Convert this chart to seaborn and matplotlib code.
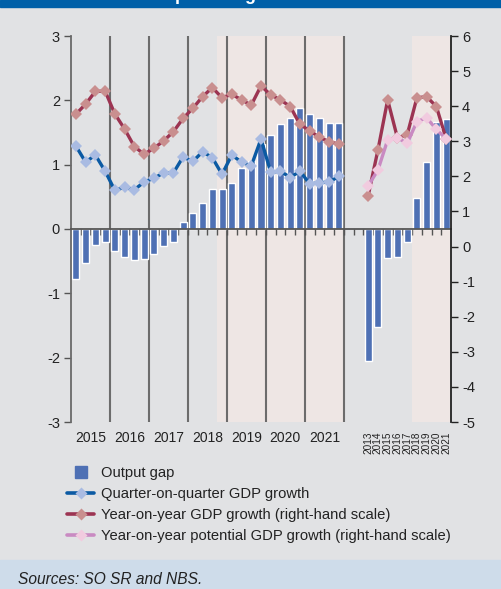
import matplotlib
matplotlib.use("Agg")
import matplotlib.pyplot as plt
from matplotlib.lines import Line2D
from matplotlib.patches import Rectangle
import matplotlib.transforms as mtransforms
import pandas as pd
import seaborn as sns

# ---- data -------------------------------------------------------------
quarter_years = ["2015", "2016", "2017", "2018", "2019", "2020", "2021"]
quarters = [f"{y}Q{q}" for y in quarter_years for q in range(1, 5)]
annual_years = ["2013", "2014", "2015", "2016", "2017", "2018", "2019", "2020", "2021"]

# output gap (left scale), quarterly 2015Q1-2021Q4
gap_q = [-0.77, -0.53, -0.25, -0.20,
         -0.34, -0.43, -0.48, -0.46,
         -0.39, -0.27, -0.20, 0.11,
         0.25, 0.40, 0.62, 0.62,
         0.71, 0.95, 1.06, 1.32,
         1.46, 1.63, 1.72, 1.88,
         1.78, 1.72, 1.64, 1.64]
# quarter-on-quarter GDP growth (left scale)
qoq_q = [1.29, 1.04, 1.15, 0.90,
         0.60, 0.65, 0.61, 0.73,
         0.79, 0.87, 0.87, 1.12,
         1.05, 1.20, 1.11, 0.85,
         1.15, 1.04, 0.98, 1.40,
         0.88, 0.90, 0.80, 0.90,
         0.70, 0.72, 0.73, 0.82]
# year-on-year GDP growth (right scale), quarterly
yoy_q = [3.77, 4.06, 4.42, 4.43,
         3.78, 3.35, 2.85, 2.63,
         2.80, 3.01, 3.27, 3.65,
         3.94, 4.27, 4.53, 4.24,
         4.34, 4.18, 4.03, 4.58,
         4.32, 4.18, 3.99, 3.48,
         3.30, 3.11, 2.99, 2.92]

# annual figures 2013-2021
gap_a = [-2.05, -1.53, -0.45, -0.43, -0.20, 0.48, 1.04, 1.66, 1.71]
yoy_a = [1.45, 2.75, 4.18, 3.10, 3.18, 4.24, 4.27, 3.99, 3.07]
pot_a = [1.73, 2.18, 3.04, 3.10, 2.94, 3.56, 3.67, 3.34, 3.07]

labels = ["Output gap",
          "Quarter-on-quarter GDP growth",
          "Year-on-year GDP growth (right-hand scale)",
          "Year-on-year potential GDP growth (right-hand scale)"]

# ---- styling ------------------------------------------------------------
BG = "#E1E2E4"
SHADE = "#EEE6E4"
BAR = "#4E70B4"
BLUE_LINE, BLUE_MARK = "#0B5AA3", "#A9BBE2"
RED_LINE, RED_MARK = "#9C3452", "#C98F8F"
PINK_LINE, PINK_MARK = "#C98AC2", "#F1CBDF"
TXT = "#222222"

sns.set_style("ticks")
plt.rcParams["font.family"] = ["Liberation Sans", "DejaVu Sans"]
plt.rcParams["axes.unicode_minus"] = False

# category slots: quarters, two empty slots, then the annual years
order = quarters + ["gap1", "gap2"] + annual_years
slot = {p: i for i, p in enumerate(order)}

fig = plt.figure(figsize=(5.02, 5.89), dpi=100, facecolor=BG)
ax = fig.add_axes([71 / 502, 1 - 422 / 589, 380 / 502, 386 / 589])
ax.set_facecolor(BG)

# shaded periods
ax.axvspan(slot["2018Q4"] - 0.5, slot["2021Q4"] + 0.5, color=SHADE, lw=0, zorder=0)
ax.axvspan(slot["2018"] - 0.5, slot["2021"] + 0.5, color=SHADE, lw=0, zorder=0)

# year separators in the quarterly panel
for y in quarter_years:
    ax.axvline(slot[f"{y}Q4"] + 0.5, color="#6C6C6C", lw=1.5, zorder=0.5)

bars = pd.DataFrame({"period": quarters + annual_years, "gap": gap_q + gap_a})
sns.barplot(data=bars, x="period", y="gap", order=order, color=BAR,
            saturation=1, width=0.72, errorbar=None, ax=ax, zorder=1)

line_kw = dict(lw=2.4, marker="D", markersize=6.1, markeredgewidth=0,
               markeredgecolor="none", legend=False, solid_capstyle="round")
sns.lineplot(x=[slot[p] for p in quarters], y=qoq_q, ax=ax, color=BLUE_LINE,
             markerfacecolor=BLUE_MARK, zorder=3, **line_kw)

ax2 = ax.twinx()
sns.lineplot(x=[slot[p] for p in quarters], y=yoy_q, ax=ax2, color=RED_LINE,
             markerfacecolor=RED_MARK, zorder=3, **line_kw)
sns.lineplot(x=[slot[p] for p in annual_years], y=yoy_a, ax=ax2, color=RED_LINE,
             markerfacecolor=RED_MARK, zorder=3, **line_kw)
sns.lineplot(x=[slot[p] for p in annual_years], y=pot_a, ax=ax2, color=PINK_LINE,
             markerfacecolor=PINK_MARK, zorder=4, **line_kw)

# axes, scales and ticks
ax.set_xlim(-0.5, len(order) - 0.5)
ax.set_ylim(-3, 3)
ax.set_yticks(range(-3, 4))
ax2.set_ylim(-5, 6)
ax2.set_yticks(range(-5, 7))
ax.set_xlabel("")
ax.set_ylabel("")
ax2.set_xlabel("")
ax2.set_ylabel("")

ax.spines["top"].set_visible(False)
ax.spines["right"].set_visible(False)
ax.spines["left"].set_color("#6A6A6A")
ax.spines["left"].set_linewidth(1.3)
ax.spines["bottom"].set_position(("data", 0))
ax.spines["bottom"].set_color("#555555")
ax.spines["bottom"].set_linewidth(1.3)
ax.set_xticks([i - 0.5 for i in range(1, len(order))])
ax.set_xticklabels([])
ax.tick_params(axis="x", direction="out", length=4, width=1, color="#555555")
ax.tick_params(axis="y", direction="out", length=5, width=1, color="#555555",
               labelsize=10.5, labelcolor=TXT, pad=3)

for s in ("top", "left", "bottom"):
    ax2.spines[s].set_visible(False)
ax2.spines["right"].set_color("#222222")
ax2.spines["right"].set_linewidth(1.3)
ax2.tick_params(axis="y", direction="out", length=5, width=1, color="#222222",
                labelsize=10.5, labelcolor=TXT, pad=3)

# period labels under the plot
below = mtransforms.blended_transform_factory(ax.transData, ax.transAxes)
for y in quarter_years:
    ax.text(slot[f"{y}Q2"] + 0.5, 0, y, transform=mtransforms.offset_copy(
        below, fig=fig, y=-11.5, units="points"), ha="center", va="center",
        fontsize=10, color=TXT)
for y in annual_years:
    ax.text(slot[y], 0, y, transform=mtransforms.offset_copy(
        below, fig=fig, y=-7, units="points"), ha="center", va="top",
        rotation=90, fontsize=7.2, color=TXT)

# legend
handles = [
    Line2D([], [], ls="none", marker="s", markersize=8, color=BAR),
    Line2D([], [], color=BLUE_LINE, lw=2.6, marker="D", markersize=6.5,
           mfc=BLUE_MARK, mec="none", solid_capstyle="round"),
    Line2D([], [], color=RED_LINE, lw=2.6, marker="D", markersize=6.5,
           mfc=RED_MARK, mec="none", solid_capstyle="round"),
    Line2D([], [], color=PINK_LINE, lw=2.6, marker="D", markersize=6.5,
           mfc=PINK_MARK, mec="none", solid_capstyle="round"),
]
fig.legend(handles, labels, loc="upper left",
           bbox_to_anchor=(60 / 502, 1 - 459 / 589), frameon=False,
           fontsize=10.6, handlelength=1.8, handletextpad=0.5,
           labelspacing=0.47, borderpad=0, labelcolor=TXT,
           markerscale=1.0)

# header band with title
fig.patches.append(Rectangle((0, 1 - 7 / 589), 1, 7 / 589,
                             transform=fig.transFigure, color="#0060A8", zorder=0))
fig.text(72 / 502, 1.0, "Chart 3  Output and growth", color="white",
         fontsize=13, fontweight="bold", ha="left", va="baseline")

# source band
fig.patches.append(Rectangle((0, 0), 1, 29 / 589, transform=fig.transFigure,
                             color="#CEDCEA", zorder=0))
fig.text(18 / 502, 5 / 589, "Sources: SO SR and NBS.", fontsize=11.2,
         style="italic", color=TXT, ha="left", va="baseline")

fig.savefig("out.png", dpi=100, facecolor=BG)
